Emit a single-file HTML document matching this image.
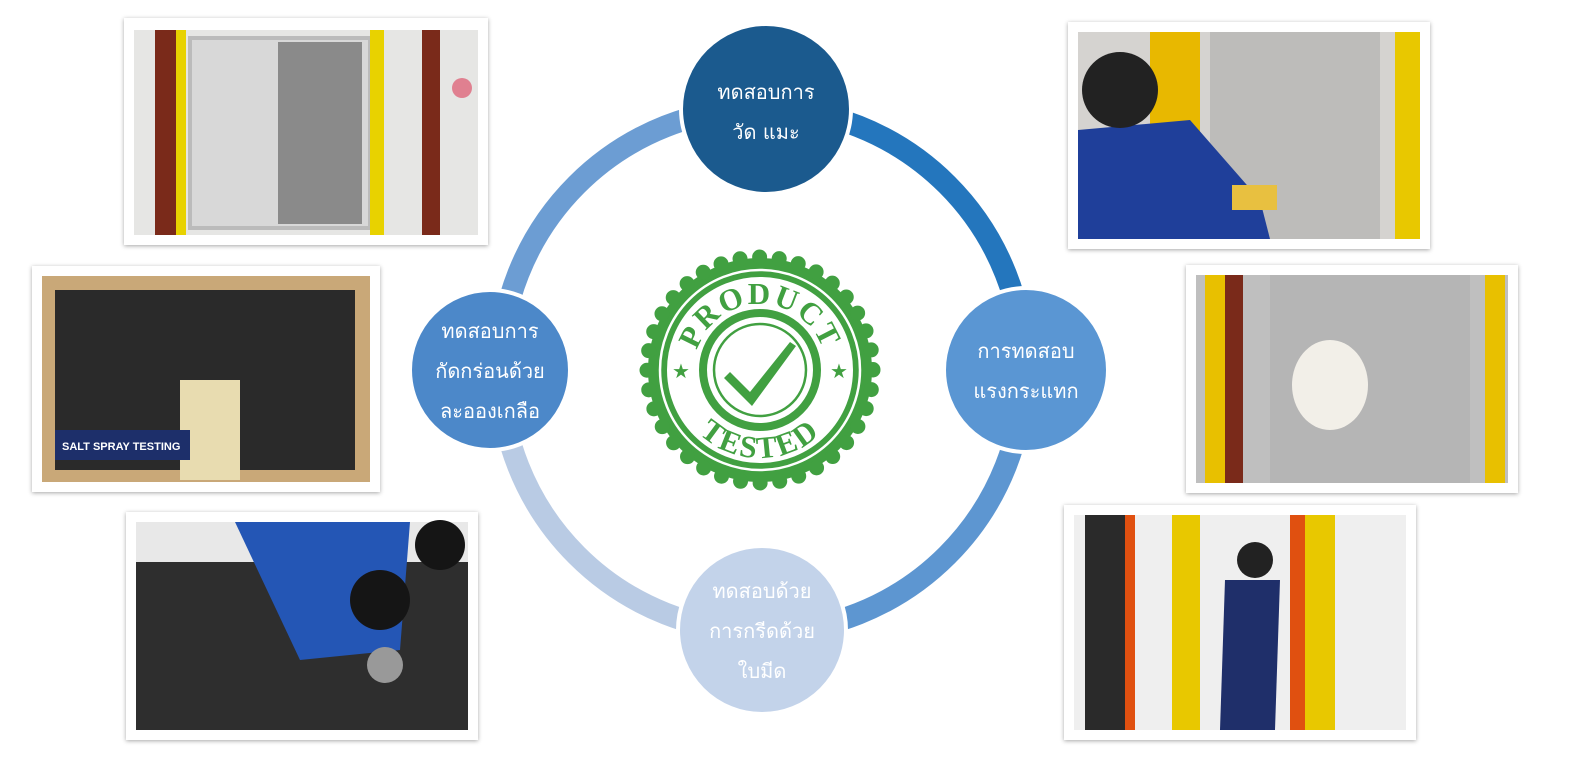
<!DOCTYPE html>
<html><head><meta charset="utf-8"><style>
html,body{margin:0;padding:0;background:#fff;width:1578px;height:778px;overflow:hidden}
svg{display:block}
text{font-family:"DejaVu Sans","Liberation Sans",sans-serif}
text.serif{font-family:"Liberation Serif",serif;font-weight:bold}
</style></head><body>
<svg width="1578" height="778" viewBox="0 0 1578 778" xmlns="http://www.w3.org/2000/svg">
<defs>
<filter id="sh" x="-5%" y="-5%" width="110%" height="110%"><feDropShadow dx="0" dy="1" stdDeviation="2" flood-color="#000" flood-opacity="0.35"/></filter>
</defs>
<g fill="none" stroke-width="22">
<path d="M 762 108 A 262 262 0 0 1 1024 370" stroke="#2476bd"/>
<path d="M 1024 370 A 262 262 0 0 1 762 632" stroke="#5d96d1"/>
<path d="M 762 632 A 262 262 0 0 1 500 370" stroke="#b9cbe4"/>
<path d="M 500 370 A 262 262 0 0 1 762 108" stroke="#6c9dd3"/>
</g>
<circle cx="766" cy="109" r="85" fill="#1b5a8e" stroke="#fff" stroke-width="4"/>
<circle cx="1026" cy="370" r="82" fill="#5a96d3" stroke="#fff" stroke-width="4"/>
<circle cx="762" cy="630" r="84" fill="#c3d3ea" stroke="#fff" stroke-width="4"/>
<circle cx="490" cy="370" r="80" fill="#4c88c9" stroke="#fff" stroke-width="4"/>
<g fill="#fff" font-size="20" text-anchor="middle">
<text x="766" y="99">ทดสอบการ</text><text x="766" y="139">วัด แมะ</text>
<text x="1026" y="358">การทดสอบ</text><text x="1026" y="398">แรงกระแทก</text>
<text x="762" y="598">ทดสอบด้วย</text><text x="762" y="638">การกรีดด้วย</text><text x="762" y="678">ใบมีด</text>
<text x="490" y="338">ทดสอบการ</text><text x="490" y="378">กัดกร่อนด้วย</text><text x="490" y="418">ละอองเกลือ</text>
</g>
<g transform="translate(760,370)">
<circle r="124" fill="#fff"/>
<circle r="112" fill="#41a041"/>
<circle r="113" fill="none" stroke="#41a041" stroke-width="15" stroke-dasharray="0 19.7" stroke-linecap="round"/>
<circle r="100" fill="none" stroke="#fff" stroke-width="2.5"/>
<circle r="94" fill="#fff"/>
<circle r="94" fill="none" stroke="#41a041" stroke-width="2"/>
<circle r="57" fill="none" stroke="#41a041" stroke-width="8"/>
<circle r="46" fill="none" stroke="#41a041" stroke-width="2.5"/>
<path d="M-30,2 L-10,22 L30,-28 L36,-24 L-8,36 L-36,8 Z" fill="#41a041"/>
<path id="tp" d="M-66,0 A66,66 0 0 1 66,0" fill="none"/>
<path id="bp" d="M-88,0 A88,88 0 0 0 88,0" fill="none"/>
<text class="serif" font-size="31" fill="#41a041" letter-spacing="2"><textPath href="#tp" startOffset="50%" text-anchor="middle">PRODUCT</textPath></text>
<text class="serif" font-size="31" fill="#41a041" letter-spacing="2"><textPath href="#bp" startOffset="50%" text-anchor="middle">TESTED</textPath></text>
<text x="-79" y="8" font-size="20" fill="#41a041" text-anchor="middle">★</text>
<text x="79" y="8" font-size="20" fill="#41a041" text-anchor="middle">★</text>
</g>
<g filter="url(#sh)">
<rect x="124" y="18" width="364" height="227" fill="#fff"/>
<rect x="32" y="266" width="348" height="226" fill="#fff"/>
<rect x="126" y="512" width="352" height="228" fill="#fff"/>
<rect x="1068" y="22" width="362" height="227" fill="#fff"/>
<rect x="1186" y="265" width="332" height="228" fill="#fff"/>
<rect x="1064" y="505" width="352" height="235" fill="#fff"/>
</g>
<rect x="134" y="30" width="344" height="205" fill="#e6e6e4"/>
<rect x="155" y="30" width="28" height="205" fill="#7a2a1a"/>
<rect x="176" y="30" width="10" height="205" fill="#e8d200"/>
<rect x="190" y="38" width="180" height="190" fill="#d8d8d8" stroke="#bbb" stroke-width="4"/>
<rect x="278" y="42" width="84" height="182" fill="#8a8a8a"/>
<rect x="370" y="30" width="14" height="205" fill="#e8d200"/>
<rect x="422" y="30" width="18" height="205" fill="#7a2a1a"/>
<circle cx="462" cy="88" r="10" fill="#e08090"/>
<rect x="42" y="276" width="328" height="206" fill="#c9a878"/>
<rect x="55" y="290" width="300" height="180" fill="#2a2a2a"/>
<rect x="180" y="380" width="60" height="100" fill="#e8dcb0"/>
<rect x="55" y="430" width="135" height="30" fill="#1d2f6a"/>
<text x="62" y="450" font-size="11" font-weight="bold" fill="#fff" style="font-family:'Liberation Sans',sans-serif">SALT SPRAY TESTING</text>
<rect x="136" y="522" width="332" height="208" fill="#2e2e2e"/>
<rect x="136" y="522" width="332" height="40" fill="#e8e8e8"/>
<path d="M235,522 L410,522 L400,650 L300,660 Z" fill="#2456b5"/>
<circle cx="380" cy="600" r="30" fill="#151515"/>
<circle cx="440" cy="545" r="25" fill="#151515"/>
<circle cx="385" cy="665" r="18" fill="#999"/>
<rect x="1078" y="32" width="342" height="207" fill="#d5d3d0"/>
<rect x="1150" y="32" width="50" height="207" fill="#e8b800"/>
<rect x="1210" y="32" width="170" height="207" fill="#bdbcba"/>
<rect x="1395" y="32" width="25" height="207" fill="#e8c800"/>
<path d="M1078,130 L1190,120 L1260,200 L1270,239 L1078,239 Z" fill="#1f3f9a"/>
<circle cx="1120" cy="90" r="38" fill="#222"/>
<rect x="1232" y="185" width="45" height="25" fill="#e8c040"/>
<rect x="1196" y="275" width="312" height="208" fill="#bfbfbf"/>
<rect x="1205" y="275" width="20" height="208" fill="#e8c000"/>
<rect x="1225" y="275" width="18" height="208" fill="#7a2a1a"/>
<rect x="1270" y="275" width="200" height="208" fill="#b5b5b5"/>
<rect x="1485" y="275" width="20" height="208" fill="#e8c000"/>
<ellipse cx="1330" cy="385" rx="38" ry="45" fill="#f2efe8"/>
<rect x="1074" y="515" width="332" height="215" fill="#efefef"/>
<rect x="1085" y="515" width="40" height="215" fill="#2a2a2a"/>
<rect x="1125" y="515" width="10" height="215" fill="#e05010"/>
<rect x="1172" y="515" width="28" height="215" fill="#e8c800"/>
<rect x="1290" y="515" width="15" height="215" fill="#e05010"/>
<rect x="1305" y="515" width="30" height="215" fill="#e8c800"/>
<path d="M1225,580 L1280,580 L1275,730 L1220,730 Z" fill="#1f2f6a"/>
<circle cx="1255" cy="560" r="18" fill="#222"/>
</svg>
</body></html>
